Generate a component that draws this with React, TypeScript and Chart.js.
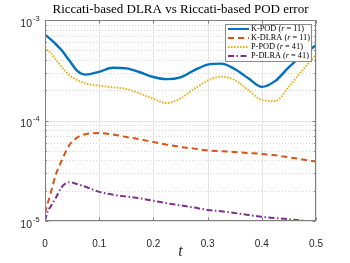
import React, { useEffect, useRef } from 'react';
import { Chart, registerables } from 'chart.js';

Chart.register(...registerables);

// ---- data ----
const tValues = [0, 0.005, 0.01, 0.02, 0.03, 0.045, 0.06, 0.075, 0.1, 0.125, 0.15, 0.175, 0.2, 0.225, 0.25, 0.275, 0.3, 0.325, 0.35, 0.375, 0.4, 0.425, 0.45, 0.475, 0.5];
const kPOD = [7.1e-4, 6.8e-4, 6.45e-4, 5.75e-4, 5.05e-4, 3.95e-4, 3.1e-4, 2.86e-4, 3.05e-4, 3.35e-4, 3.3e-4, 3.02e-4, 2.71e-4, 2.58e-4, 2.69e-4, 3.15e-4, 3.6e-4, 3.68e-4, 3.25e-4, 2.63e-4, 2.16e-4, 2.48e-4, 3.4e-4, 4.45e-4, 5.6e-4];
const kDLRA = [1.2e-5, 1.5e-5, 1.85e-5, 2.9e-5, 3.9e-5, 5.7e-5, 6.8e-5, 7.3e-5, 7.5e-5, 7.25e-5, 6.85e-5, 6.5e-5, 6.1e-5, 5.75e-5, 5.45e-5, 5.25e-5, 5.05e-5, 4.95e-5, 4.85e-5, 4.75e-5, 4.65e-5, 4.5e-5, 4.3e-5, 4.1e-5, 3.9e-5];
const pPOD = [5.4e-4, 5.0e-4, 4.75e-4, 4.05e-4, 3.45e-4, 2.82e-4, 2.52e-4, 2.34e-4, 2.22e-4, 2.14e-4, 2.06e-4, 1.86e-4, 1.64e-4, 1.49e-4, 1.66e-4, 2.06e-4, 2.49e-4, 2.73e-4, 2.53e-4, 2.01e-4, 1.6e-4, 1.56e-4, 2.17e-4, 3.17e-4, 4.49e-4];
const pDLRA = [1.0e-5, 1.25e-5, 1.38e-5, 1.7e-5, 2.15e-5, 2.43e-5, 2.32e-5, 2.19e-5, 1.95e-5, 1.83e-5, 1.75e-5, 1.68e-5, 1.59e-5, 1.5e-5, 1.43e-5, 1.36e-5, 1.29e-5, 1.25e-5, 1.2e-5, 1.15e-5, 1.1e-5, 1.07e-5, 1.04e-5, 1.01e-5, 0.98e-5];

const seriesNames = ['K-POD', 'K-DLRA', 'P-POD', 'P-DLRA'];
const seriesRanks = [11, 11, 41, 41];
const seriesColors = ['#0072BD', '#D95319', '#EDB120', '#7E2F8E'];
const seriesDashes = [[], [6, 4], [1.6, 1.4], [6, 2.5, 1.5, 2.5]];
const xTicks = [0, 0.1, 0.2, 0.3, 0.4, 0.5];
const yDecades = [-5, -4, -3];
const titleText = 'Riccati-based DLRA vs Riccati-based POD error';
const xTitle = 't';

const AXIS_COLOR = '#808080';
const LABEL_COLOR = '#262626';

const matlabPlugin = {
  id: 'matlabLook',
  beforeDatasetsDraw(chart: any) {
    const { ctx, chartArea, scales } = chart;
    const { left, right, top, bottom } = chartArea;
    const x = scales.x;
    const y = scales.y;
    ctx.save();
    ctx.lineWidth = 1;
    // minor grid (dotted)
    ctx.strokeStyle = '#d6d6d6';
    ctx.setLineDash([1, 2]);
    for (let i = 0; i < yDecades.length - 1; i++) {
      for (let m = 2; m <= 9; m++) {
        const yy = Math.round(y.getPixelForValue(m * Math.pow(10, yDecades[i]))) + 0.5;
        ctx.beginPath();
        ctx.moveTo(left, yy);
        ctx.lineTo(right, yy);
        ctx.stroke();
      }
    }
    // major grid
    ctx.setLineDash([]);
    ctx.strokeStyle = '#e4e4e4';
    xTicks.forEach((v) => {
      const xx = Math.round(x.getPixelForValue(v)) + 0.5;
      ctx.beginPath();
      ctx.moveTo(xx, top);
      ctx.lineTo(xx, bottom);
      ctx.stroke();
    });
    yDecades.forEach((d) => {
      const yy = Math.round(y.getPixelForValue(Math.pow(10, d))) + 0.5;
      ctx.beginPath();
      ctx.moveTo(left, yy);
      ctx.lineTo(right, yy);
      ctx.stroke();
    });
    ctx.restore();
  },
  afterDatasetsDraw(chart: any) {
    const { ctx, chartArea, scales } = chart;
    const { left, right, top, bottom } = chartArea;
    const x = scales.x;
    const y = scales.y;
    ctx.save();
    // axis box
    ctx.lineWidth = 1;
    ctx.strokeStyle = AXIS_COLOR;
    ctx.setLineDash([]);
    const L = Math.round(left) + 0.5;
    const R = Math.round(right) - 0.5;
    const T = Math.round(top) + 0.5;
    const B = Math.round(bottom) - 0.5;
    ctx.strokeRect(L, T, R - L, B - T);
    // x ticks (inward, both sides)
    xTicks.forEach((v) => {
      const xx = Math.round(x.getPixelForValue(v)) + 0.5;
      ctx.beginPath();
      ctx.moveTo(xx, B);
      ctx.lineTo(xx, B - 3);
      ctx.moveTo(xx, T);
      ctx.lineTo(xx, T + 3);
      ctx.stroke();
    });
    // y ticks
    for (let i = 0; i < yDecades.length; i++) {
      const yy = Math.round(y.getPixelForValue(Math.pow(10, yDecades[i]))) + 0.5;
      ctx.beginPath();
      ctx.moveTo(L, yy);
      ctx.lineTo(L + 3, yy);
      ctx.moveTo(R, yy);
      ctx.lineTo(R - 3, yy);
      ctx.stroke();
      if (i < yDecades.length - 1) {
        for (let m = 2; m <= 9; m++) {
          const ym = Math.round(y.getPixelForValue(m * Math.pow(10, yDecades[i]))) + 0.5;
          ctx.beginPath();
          ctx.moveTo(L, ym);
          ctx.lineTo(L + 1.5, ym);
          ctx.moveTo(R, ym);
          ctx.lineTo(R - 1.5, ym);
          ctx.stroke();
        }
      }
    }
    // y tick labels with superscripts
    ctx.fillStyle = LABEL_COLOR;
    yDecades.forEach((d) => {
      const yv = y.getPixelForValue(Math.pow(10, d));
      ctx.font = '10.5px "Liberation Sans", Arial, sans-serif';
      ctx.textAlign = 'right';
      ctx.textBaseline = 'alphabetic';
      ctx.fillText('10', 32, yv + 6.8);
      ctx.font = '7.5px "Liberation Sans", Arial, sans-serif';
      ctx.textAlign = 'left';
      ctx.fillText('-' + String(Math.abs(d)), 33, yv + 0.8);
    });
    // title
    ctx.fillStyle = '#000000';
    ctx.font = '13px "Liberation Serif", "Times New Roman", serif';
    ctx.textAlign = 'center';
    ctx.textBaseline = 'middle';
    ctx.fillText(titleText, (left + right) / 2, 10);
    // legend
    const bx = 225.5, by = 24.5, bw = 86, bh = 37;
    ctx.fillStyle = '#ffffff';
    ctx.fillRect(bx, by, bw, bh);
    ctx.strokeStyle = '#8a8a8a';
    ctx.lineWidth = 1;
    ctx.strokeRect(bx, by, bw, bh);
    seriesNames.forEach((name, i) => {
      const ry = 29 + i * 9;
      ctx.save();
      ctx.strokeStyle = seriesColors[i];
      ctx.lineWidth = 2;
      ctx.setLineDash(seriesDashes[i]);
      ctx.beginPath();
      ctx.moveTo(228, ry);
      ctx.lineTo(249, ry);
      ctx.stroke();
      ctx.restore();
      ctx.fillStyle = '#000000';
      ctx.textAlign = 'left';
      ctx.textBaseline = 'middle';
      let tx = 251;
      const normal = '8.3px "Liberation Serif", "Times New Roman", serif';
      const italic = 'italic 8.3px "Liberation Serif", "Times New Roman", serif';
      ctx.font = normal;
      const p1 = name + ' (';
      ctx.fillText(p1, tx, ry);
      tx += ctx.measureText(p1).width;
      ctx.font = italic;
      ctx.fillText('r', tx, ry);
      tx += ctx.measureText('r').width;
      ctx.font = normal;
      ctx.fillText(' = ' + seriesRanks[i] + ')', tx, ry);
    });
    ctx.restore();
  },
};

export default function App() {
  const canvasRef = useRef<HTMLCanvasElement | null>(null);

  useEffect(() => {
    const canvas = canvasRef.current;
    if (!canvas) return;
    const seriesData = [kPOD, kDLRA, pPOD, pDLRA];
    const chart = new Chart(canvas, {
      type: 'line',
      data: {
        datasets: seriesData.map((arr, i) => ({
          label: seriesNames[i] + ' (r = ' + seriesRanks[i] + ')',
          data: arr.map((v, j) => ({ x: tValues[j], y: v })),
          borderColor: seriesColors[i],
          backgroundColor: seriesColors[i],
          borderWidth: i === 0 ? 2.4 : 2,
          borderDash: seriesDashes[i],
          borderCapStyle: 'butt',
          pointRadius: 0,
          fill: false,
          cubicInterpolationMode: 'monotone',
        })),
      },
      options: {
        animation: false,
        responsive: false,
        devicePixelRatio: 1,
        layout: { padding: { left: 0, right: 34, top: 20, bottom: 0 } },
        plugins: {
          legend: { display: false },
          title: { display: false },
          tooltip: { enabled: false },
        },
        scales: {
          x: {
            type: 'linear',
            min: 0,
            max: 0.5,
            grid: { display: false },
            border: { display: false },
            afterBuildTicks: (scale: any) => {
              scale.ticks = xTicks.map((v) => ({ value: v }));
            },
            afterFit: (scale: any) => {
              scale.height = 42;
            },
            ticks: {
              autoSkip: false,
              maxRotation: 0,
              padding: 9,
              color: LABEL_COLOR,
              font: { family: '"Liberation Sans", Arial, sans-serif', size: 10 },
              callback: (v: any) => String(Math.round(Number(v) * 10) / 10),
            },
            title: {
              display: true,
              text: xTitle,
              color: LABEL_COLOR,
              font: { family: '"Liberation Serif", "Times New Roman", serif', size: 16, style: 'italic' },
              padding: { top: 0, bottom: 2 },
            },
          },
          y: {
            type: 'logarithmic',
            min: 1e-5,
            max: 1e-3,
            grid: { display: false },
            border: { display: false },
            ticks: { display: false },
            afterFit: (scale: any) => {
              scale.width = 45;
            },
          },
        },
      },
      plugins: [matlabPlugin],
    } as any);
    return () => chart.destroy();
  }, []);

  return (
    <div style={{ position: 'fixed', left: 0, top: 0, width: 350, height: 263, background: '#ffffff' }}>
      <canvas ref={canvasRef} width={350} height={263} style={{ width: 350, height: 263, display: 'block' }} />
    </div>
  );
}
